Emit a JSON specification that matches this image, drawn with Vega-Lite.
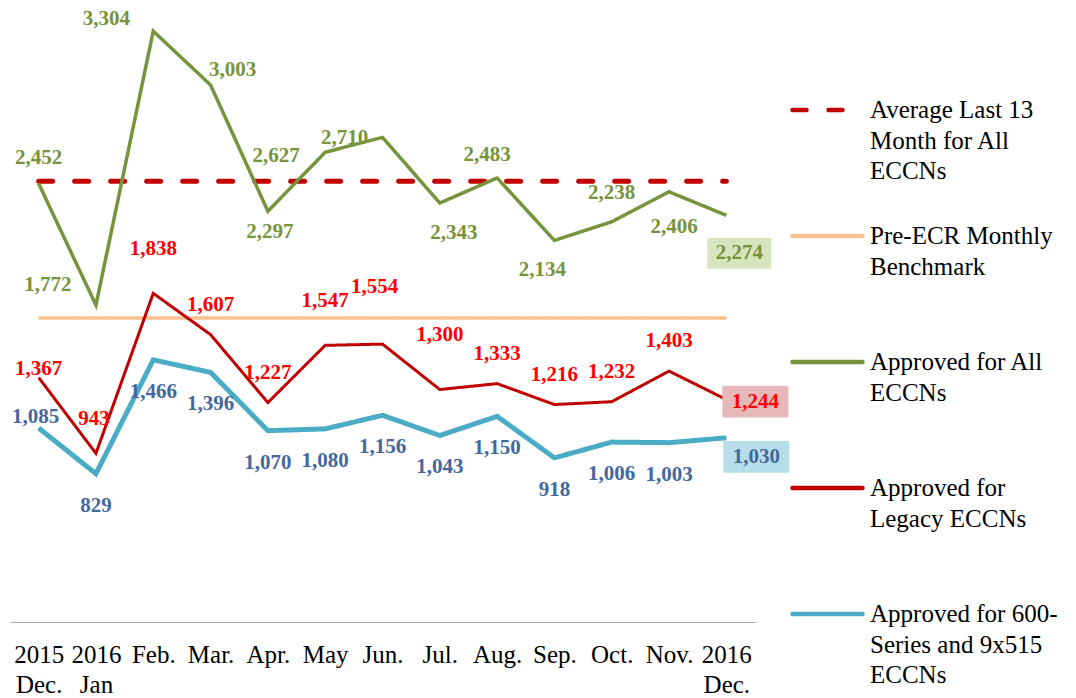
{
  "$schema": "https://vega.github.io/schema/vega-lite/v6.json",
  "width": 1066,
  "height": 608,
  "autosize": {"type": "none"},
  "padding": {"left": 10, "top": 14, "right": 0, "bottom": 76},
  "background": "white",
  "config": {
    "view": {"stroke": null},
    "text": {"font": "Liberation Serif", "fontSize": 21, "fontWeight": "bold", "baseline": "middle", "align": "center"}
  },
  "data": {"values": [
    {"month": "2015 Dec.", "series": "Average Last 13 Month for All ECCNs", "value": 2465},
    {"month": "2016 Jan", "series": "Average Last 13 Month for All ECCNs", "value": 2465},
    {"month": "Feb.", "series": "Average Last 13 Month for All ECCNs", "value": 2465},
    {"month": "Mar.", "series": "Average Last 13 Month for All ECCNs", "value": 2465},
    {"month": "Apr.", "series": "Average Last 13 Month for All ECCNs", "value": 2465},
    {"month": "May", "series": "Average Last 13 Month for All ECCNs", "value": 2465},
    {"month": "Jun.", "series": "Average Last 13 Month for All ECCNs", "value": 2465},
    {"month": "Jul.", "series": "Average Last 13 Month for All ECCNs", "value": 2465},
    {"month": "Aug.", "series": "Average Last 13 Month for All ECCNs", "value": 2465},
    {"month": "Sep.", "series": "Average Last 13 Month for All ECCNs", "value": 2465},
    {"month": "Oct.", "series": "Average Last 13 Month for All ECCNs", "value": 2465},
    {"month": "Nov.", "series": "Average Last 13 Month for All ECCNs", "value": 2465},
    {"month": "2016 Dec.", "series": "Average Last 13 Month for All ECCNs", "value": 2465},
    {"month": "2015 Dec.", "series": "Pre-ECR Monthly Benchmark", "value": 1700},
    {"month": "2016 Jan", "series": "Pre-ECR Monthly Benchmark", "value": 1700},
    {"month": "Feb.", "series": "Pre-ECR Monthly Benchmark", "value": 1700},
    {"month": "Mar.", "series": "Pre-ECR Monthly Benchmark", "value": 1700},
    {"month": "Apr.", "series": "Pre-ECR Monthly Benchmark", "value": 1700},
    {"month": "May", "series": "Pre-ECR Monthly Benchmark", "value": 1700},
    {"month": "Jun.", "series": "Pre-ECR Monthly Benchmark", "value": 1700},
    {"month": "Jul.", "series": "Pre-ECR Monthly Benchmark", "value": 1700},
    {"month": "Aug.", "series": "Pre-ECR Monthly Benchmark", "value": 1700},
    {"month": "Sep.", "series": "Pre-ECR Monthly Benchmark", "value": 1700},
    {"month": "Oct.", "series": "Pre-ECR Monthly Benchmark", "value": 1700},
    {"month": "Nov.", "series": "Pre-ECR Monthly Benchmark", "value": 1700},
    {"month": "2016 Dec.", "series": "Pre-ECR Monthly Benchmark", "value": 1700},
    {"month": "2015 Dec.", "series": "Approved for All ECCNs", "value": 2452},
    {"month": "2016 Jan", "series": "Approved for All ECCNs", "value": 1772},
    {"month": "Feb.", "series": "Approved for All ECCNs", "value": 3304},
    {"month": "Mar.", "series": "Approved for All ECCNs", "value": 3003},
    {"month": "Apr.", "series": "Approved for All ECCNs", "value": 2297},
    {"month": "May", "series": "Approved for All ECCNs", "value": 2627},
    {"month": "Jun.", "series": "Approved for All ECCNs", "value": 2710},
    {"month": "Jul.", "series": "Approved for All ECCNs", "value": 2343},
    {"month": "Aug.", "series": "Approved for All ECCNs", "value": 2483},
    {"month": "Sep.", "series": "Approved for All ECCNs", "value": 2134},
    {"month": "Oct.", "series": "Approved for All ECCNs", "value": 2238},
    {"month": "Nov.", "series": "Approved for All ECCNs", "value": 2406},
    {"month": "2016 Dec.", "series": "Approved for All ECCNs", "value": 2274},
    {"month": "2015 Dec.", "series": "Approved for Legacy ECCNs", "value": 1367},
    {"month": "2016 Jan", "series": "Approved for Legacy ECCNs", "value": 943},
    {"month": "Feb.", "series": "Approved for Legacy ECCNs", "value": 1838},
    {"month": "Mar.", "series": "Approved for Legacy ECCNs", "value": 1607},
    {"month": "Apr.", "series": "Approved for Legacy ECCNs", "value": 1227},
    {"month": "May", "series": "Approved for Legacy ECCNs", "value": 1547},
    {"month": "Jun.", "series": "Approved for Legacy ECCNs", "value": 1554},
    {"month": "Jul.", "series": "Approved for Legacy ECCNs", "value": 1300},
    {"month": "Aug.", "series": "Approved for Legacy ECCNs", "value": 1333},
    {"month": "Sep.", "series": "Approved for Legacy ECCNs", "value": 1216},
    {"month": "Oct.", "series": "Approved for Legacy ECCNs", "value": 1232},
    {"month": "Nov.", "series": "Approved for Legacy ECCNs", "value": 1403},
    {"month": "2016 Dec.", "series": "Approved for Legacy ECCNs", "value": 1244},
    {"month": "2015 Dec.", "series": "Approved for 600-Series and 9x515 ECCNs", "value": 1085},
    {"month": "2016 Jan", "series": "Approved for 600-Series and 9x515 ECCNs", "value": 829},
    {"month": "Feb.", "series": "Approved for 600-Series and 9x515 ECCNs", "value": 1466},
    {"month": "Mar.", "series": "Approved for 600-Series and 9x515 ECCNs", "value": 1396},
    {"month": "Apr.", "series": "Approved for 600-Series and 9x515 ECCNs", "value": 1070},
    {"month": "May", "series": "Approved for 600-Series and 9x515 ECCNs", "value": 1080},
    {"month": "Jun.", "series": "Approved for 600-Series and 9x515 ECCNs", "value": 1156},
    {"month": "Jul.", "series": "Approved for 600-Series and 9x515 ECCNs", "value": 1043},
    {"month": "Aug.", "series": "Approved for 600-Series and 9x515 ECCNs", "value": 1150},
    {"month": "Sep.", "series": "Approved for 600-Series and 9x515 ECCNs", "value": 918},
    {"month": "Oct.", "series": "Approved for 600-Series and 9x515 ECCNs", "value": 1006},
    {"month": "Nov.", "series": "Approved for 600-Series and 9x515 ECCNs", "value": 1003},
    {"month": "2016 Dec.", "series": "Approved for 600-Series and 9x515 ECCNs", "value": 1030}
  ]},
  "encoding": {
    "x": {
      "field": "month", "type": "ordinal",
      "scale": {"type": "point", "domain": ["2015 Dec.", "2016 Jan", "Feb.", "Mar.", "Apr.", "May", "Jun.", "Jul.", "Aug.", "Sep.", "Oct.", "Nov.", "2016 Dec."], "range": [0, 745], "padding": 0.5},
      "axis": {"title": null, "labelAngle": 0, "ticks": false, "tickSize": 0, "labelPadding": 20, "domainColor": "#A6A6A6", "domainWidth": 1.2, "grid": false, "labelFont": "Liberation Serif", "labelFontSize": 25, "labelColor": "#000000", "labelLineHeight": 30, "labelOverlap": false, "labelBound": false, "labelFlush": false, "labelExpr": "split(datum.label, ' ')"}
    },
    "y": {"field": "value", "type": "quantitative", "scale": {"domain": [0, 3400], "nice": false, "zero": true}, "axis": null}
  },
  "layer": [
    {
      "encoding": {
        "color": {
          "field": "series", "type": "nominal",
          "scale": {"domain": ["Average Last 13 Month for All ECCNs", "Pre-ECR Monthly Benchmark", "Approved for All ECCNs", "Approved for Legacy ECCNs", "Approved for 600-Series and 9x515 ECCNs"], "range": ["#C00000", "#FAC090", "#77933C", "#C00000", "#4BACC6"]},
          "legend": {
            "title": null, "orient": "none", "legendX": 780, "legendY": 58.5, "padding": 0,
            "symbolType": "stroke", "symbolSize": 4900, "symbolStrokeWidth": 4.5,
            "labelFont": "Liberation Serif", "labelFontSize": 25, "labelColor": "#000000", "labelBaseline": "top", "labelOffset": 5, "labelLimit": 400,
            "rowPadding": 14, "gridAlign": "all",
            "labelExpr": "datum.label == 'Average Last 13 Month for All ECCNs' ? ['Average Last 13', 'Month for All', 'ECCNs'] : datum.label == 'Pre-ECR Monthly Benchmark' ? ['Pre-ECR Monthly', 'Benchmark'] : datum.label == 'Approved for All ECCNs' ? ['Approved for All', 'ECCNs'] : datum.label == 'Approved for Legacy ECCNs' ? ['Approved for', 'Legacy ECCNs'] : ['Approved for 600-', 'Series and 9x515', 'ECCNs']",
            "encode": {"labels": {"update": {"dy": {"value": -12}, "lineHeight": {"value": 30.5}}}, "symbols": {"update": {"strokeCap": {"value": "round"}}}}
          }
        },
        "strokeDash": {
          "field": "series", "type": "nominal",
          "scale": {"domain": ["Average Last 13 Month for All ECCNs", "Pre-ECR Monthly Benchmark", "Approved for All ECCNs", "Approved for Legacy ECCNs", "Approved for 600-Series and 9x515 ECCNs"], "range": [[14, 22], [1, 0], [1, 0], [1, 0], [1, 0]]},
          "legend": {
            "title": null, "orient": "none", "legendX": 780, "legendY": 58.5, "padding": 0,
            "symbolType": "stroke", "symbolSize": 4900, "symbolStrokeWidth": 4.5,
            "labelFont": "Liberation Serif", "labelFontSize": 25, "labelColor": "#000000", "labelBaseline": "top", "labelOffset": 5, "labelLimit": 400,
            "rowPadding": 14, "gridAlign": "all",
            "labelExpr": "datum.label == 'Average Last 13 Month for All ECCNs' ? ['Average Last 13', 'Month for All', 'ECCNs'] : datum.label == 'Pre-ECR Monthly Benchmark' ? ['Pre-ECR Monthly', 'Benchmark'] : datum.label == 'Approved for All ECCNs' ? ['Approved for All', 'ECCNs'] : datum.label == 'Approved for Legacy ECCNs' ? ['Approved for', 'Legacy ECCNs'] : ['Approved for 600-', 'Series and 9x515', 'ECCNs']",
            "encode": {"labels": {"update": {"dy": {"value": -12}, "lineHeight": {"value": 30.5}}}, "symbols": {"update": {"strokeCap": {"value": "round"}}}}
          }
        }
      },
      "layer": [
        {"transform": [{"filter": "datum.series == 'Pre-ECR Monthly Benchmark'"}], "mark": {"type": "line", "strokeWidth": 3.5}},
        {"transform": [{"filter": "datum.series == 'Average Last 13 Month for All ECCNs'"}], "mark": {"type": "line", "strokeWidth": 5, "strokeCap": "round"}},
        {"transform": [{"filter": "datum.series == 'Approved for All ECCNs'"}], "mark": {"type": "line", "strokeWidth": 3.5}},
        {"transform": [{"filter": "datum.series == 'Approved for Legacy ECCNs'"}], "mark": {"type": "line", "strokeWidth": 3}},
        {"transform": [{"filter": "datum.series == 'Approved for 600-Series and 9x515 ECCNs'"}], "mark": {"type": "line", "strokeWidth": 5}}
      ]
    },
    {"transform": [{"filter": "datum.series == 'Approved for All ECCNs' && datum.month == '2016 Dec.'"}], "mark": {"type": "point", "shape": "M-1,-0.48L1,-0.48L1,0.48L-1,0.48Z", "size": 4096, "filled": true, "color": "#D7E4BD", "opacity": 1, "strokeWidth": 0, "xOffset": 13, "yOffset": 38}},
    {"transform": [{"filter": "datum.series == 'Approved for Legacy ECCNs' && datum.month == '2016 Dec.'"}], "mark": {"type": "point", "shape": "M-1,-0.48L1,-0.48L1,0.48L-1,0.48Z", "size": 4356, "filled": true, "color": "#E6B9B8", "opacity": 1, "strokeWidth": 0, "xOffset": 29, "yOffset": 2}},
    {"transform": [{"filter": "datum.series == 'Approved for 600-Series and 9x515 ECCNs' && datum.month == '2016 Dec.'"}], "mark": {"type": "point", "shape": "M-1,-0.48L1,-0.48L1,0.48L-1,0.48Z", "size": 4356, "filled": true, "color": "#B7DEE8", "opacity": 1, "strokeWidth": 0, "xOffset": 30, "yOffset": 19}},

    {"transform": [{"filter": "datum.series == 'Approved for All ECCNs' && datum.month == '2015 Dec.'"}], "mark": {"type": "text", "color": "#77933C", "dy": -26}, "encoding": {"text": {"field": "value", "type": "quantitative", "format": ","}}},
    {"transform": [{"filter": "datum.series == 'Approved for All ECCNs' && datum.month == '2016 Jan'"}], "mark": {"type": "text", "color": "#77933C", "dx": -48, "dy": -20}, "encoding": {"text": {"field": "value", "type": "quantitative", "format": ","}}},
    {"transform": [{"filter": "datum.series == 'Approved for All ECCNs' && datum.month == 'Feb.'"}], "mark": {"type": "text", "color": "#77933C", "dx": -47, "dy": -12}, "encoding": {"text": {"field": "value", "type": "quantitative", "format": ","}}},
    {"transform": [{"filter": "datum.series == 'Approved for All ECCNs' && datum.month == 'Mar.'"}], "mark": {"type": "text", "color": "#77933C", "dx": 22, "dy": -15}, "encoding": {"text": {"field": "value", "type": "quantitative", "format": ","}}},
    {"transform": [{"filter": "datum.series == 'Approved for All ECCNs' && datum.month == 'Apr.'"}], "mark": {"type": "text", "color": "#77933C", "dx": 2, "dy": 21}, "encoding": {"text": {"field": "value", "type": "quantitative", "format": ","}}},
    {"transform": [{"filter": "datum.series == 'Approved for All ECCNs' && datum.month == 'May'"}], "mark": {"type": "text", "color": "#77933C", "dx": -49, "dy": 4}, "encoding": {"text": {"field": "value", "type": "quantitative", "format": ","}}},
    {"transform": [{"filter": "datum.series == 'Approved for All ECCNs' && datum.month == 'Jun.'"}], "mark": {"type": "text", "color": "#77933C", "dx": -38, "dy": 1}, "encoding": {"text": {"field": "value", "type": "quantitative", "format": ","}}},
    {"transform": [{"filter": "datum.series == 'Approved for All ECCNs' && datum.month == 'Jul.'"}], "mark": {"type": "text", "color": "#77933C", "dx": 14, "dy": 30}, "encoding": {"text": {"field": "value", "type": "quantitative", "format": ","}}},
    {"transform": [{"filter": "datum.series == 'Approved for All ECCNs' && datum.month == 'Aug.'"}], "mark": {"type": "text", "color": "#77933C", "dx": -10, "dy": -23}, "encoding": {"text": {"field": "value", "type": "quantitative", "format": ","}}},
    {"transform": [{"filter": "datum.series == 'Approved for All ECCNs' && datum.month == 'Sep.'"}], "mark": {"type": "text", "color": "#77933C", "dx": -12, "dy": 30}, "encoding": {"text": {"field": "value", "type": "quantitative", "format": ","}}},
    {"transform": [{"filter": "datum.series == 'Approved for All ECCNs' && datum.month == 'Oct.'"}], "mark": {"type": "text", "color": "#77933C", "dy": -29}, "encoding": {"text": {"field": "value", "type": "quantitative", "format": ","}}},
    {"transform": [{"filter": "datum.series == 'Approved for All ECCNs' && datum.month == 'Nov.'"}], "mark": {"type": "text", "color": "#77933C", "dx": 5, "dy": 35}, "encoding": {"text": {"field": "value", "type": "quantitative", "format": ","}}},
    {"transform": [{"filter": "datum.series == 'Approved for All ECCNs' && datum.month == '2016 Dec.'"}], "mark": {"type": "text", "color": "#77933C", "dx": 13, "dy": 38}, "encoding": {"text": {"field": "value", "type": "quantitative", "format": ","}}},

    {"transform": [{"filter": "datum.series == 'Approved for Legacy ECCNs' && indexof(['Mar.', 'Apr.', 'Aug.', 'Sep.', 'Oct.', 'Nov.'], datum.month) >= 0"}], "mark": {"type": "text", "color": "#FF0000", "dy": -30}, "encoding": {"text": {"field": "value", "type": "quantitative", "format": ","}}},
    {"transform": [{"filter": "datum.series == 'Approved for Legacy ECCNs' && datum.month == '2016 Jan'"}], "mark": {"type": "text", "color": "#FF0000", "dx": -2, "dy": -34}, "encoding": {"text": {"field": "value", "type": "quantitative", "format": ","}}},
    {"transform": [{"filter": "datum.series == 'Approved for Legacy ECCNs' && datum.month == '2015 Dec.'"}], "mark": {"type": "text", "color": "#FF0000", "dy": -9}, "encoding": {"text": {"field": "value", "type": "quantitative", "format": ","}}},
    {"transform": [{"filter": "datum.series == 'Approved for Legacy ECCNs' && indexof(['Feb.', 'May'], datum.month) >= 0"}], "mark": {"type": "text", "color": "#FF0000", "dy": -44}, "encoding": {"text": {"field": "value", "type": "quantitative", "format": ","}}},
    {"transform": [{"filter": "datum.series == 'Approved for Legacy ECCNs' && datum.month == 'Jun.'"}], "mark": {"type": "text", "color": "#FF0000", "dx": -8, "dy": -57}, "encoding": {"text": {"field": "value", "type": "quantitative", "format": ","}}},
    {"transform": [{"filter": "datum.series == 'Approved for Legacy ECCNs' && datum.month == 'Jul.'"}], "mark": {"type": "text", "color": "#FF0000", "dy": -55}, "encoding": {"text": {"field": "value", "type": "quantitative", "format": ","}}},
    {"transform": [{"filter": "datum.series == 'Approved for Legacy ECCNs' && datum.month == '2016 Dec.'"}], "mark": {"type": "text", "color": "#FF0000", "dx": 29, "dy": 2}, "encoding": {"text": {"field": "value", "type": "quantitative", "format": ","}}},

    {"transform": [{"filter": "datum.series == 'Approved for 600-Series and 9x515 ECCNs' && indexof(['2015 Dec.', '2016 Dec.'], datum.month) < 0"}], "mark": {"type": "text", "color": "#44689E", "dy": 32}, "encoding": {"text": {"field": "value", "type": "quantitative", "format": ","}}},
    {"transform": [{"filter": "datum.series == 'Approved for 600-Series and 9x515 ECCNs' && datum.month == '2015 Dec.'"}], "mark": {"type": "text", "color": "#44689E", "dx": -3, "dy": -11}, "encoding": {"text": {"field": "value", "type": "quantitative", "format": ","}}},
    {"transform": [{"filter": "datum.series == 'Approved for 600-Series and 9x515 ECCNs' && datum.month == '2016 Dec.'"}], "mark": {"type": "text", "color": "#44689E", "dx": 30, "dy": 19}, "encoding": {"text": {"field": "value", "type": "quantitative", "format": ","}}}
  ]
}
